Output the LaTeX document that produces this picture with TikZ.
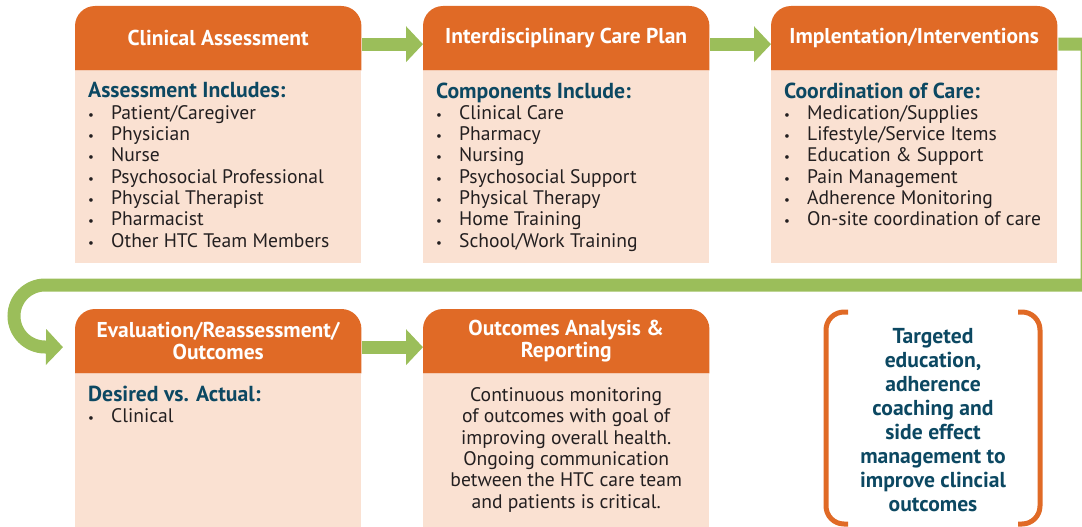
\documentclass[tikz,border=0pt]{standalone}
\usepackage{fontspec}
\setmainfont{PT Sans}
\usetikzlibrary{positioning,arrows.meta,backgrounds}
\definecolor{hdrorange}{RGB}{224,106,38}
\definecolor{bodypeach}{RGB}{250,225,210}
\definecolor{flowgreen}{RGB}{155,190,90}
\definecolor{headteal}{RGB}{12,72,98}
\definecolor{bodygray}{RGB}{35,31,32}
\newcommand{\itm}[1]{\makebox[23pt][l]{\fontsize{13}{13}\selectfont\textbullet}#1}
\newcommand{\hd}[1]{{\fontsize{21.7}{21.3}\selectfont\bfseries\color{headteal}#1}}
\begin{document}
\begin{tikzpicture}[x=1pt, y=-1pt,
	hdr/.style={minimum width=286pt, minimum height=64pt, inner sep=0pt, anchor=north west, text=white, align=center, font=\fontsize{21.5}{22}\selectfont\bfseries},
	bdy/.style={minimum width=286pt, inner sep=0pt, anchor=north west, fill=bodypeach},
	txt/.style={inner sep=0pt, align=left, text=bodygray, font=\fontsize{19.6}{21.3}\selectfont},
	flow/.style={draw=flowgreen, line width=13pt, -{Triangle[width=35pt,length=17pt]}},
	brk/.style={draw=hdrorange, line width=5pt, rounded corners=18pt}]
	\useasboundingbox (0,0) rectangle (1082,527);
	% top row
	\node[hdr](cah) at (75,6) {Clinical Assessment};
	\node[hdr](icph) at (423,6) {Interdisciplinary Care Plan};
	\node[hdr](iih) at (771,6) {Implentation/Interventions};
	\node[bdy, minimum height=192pt](cab) at (cah.south west) {};
	\node[bdy, minimum height=192pt](icpb) at (icph.south west) {};
	\node[bdy, minimum height=192pt](iib) at (iih.south west) {};
	\node[txt, below right=12pt and 13pt of cab.north west](cat) {\hd{Assessment Includes:}\\
		\itm{Patient/Caregiver}\\ \itm{Physician}\\ \itm{Nurse}\\ \itm{Psychosocial Professional}\\
		\itm{Physcial Therapist}\\ \itm{Pharmacist}\\ \itm{Other HTC Team Members}};
	\node[txt, below right=12pt and 13pt of icpb.north west](icpt) {\hd{Components Include:}\\
		\itm{Clinical Care}\\ \itm{Pharmacy}\\ \itm{Nursing}\\ \itm{Psychosocial Support}\\
		\itm{Physical Therapy}\\ \itm{Home Training}\\ \itm{School/Work Training}};
	\node[txt, below right=12pt and 13pt of iib.north west](iit) {\hd{Coordination of Care:}\\
		\itm{Medication/Supplies}\\ \itm{Lifestyle/Service Items}\\ \itm{Education \& Support}\\
		\itm{Pain Management}\\ \itm{Adherence Monitoring}\\ \itm{On-site coordination of care}};
	% bottom row
	\node[hdr](erah) at (75,309) {Evaluation/Reassessment/\\Outcomes};
	\node[hdr](oarh) at (423,309) {Outcomes Analysis \&\\Reporting};
	\node[bdy, minimum height=170pt](erab) at (erah.south west) {};
	\node[bdy, minimum height=170pt](oarb) at (oarh.south west) {};
	\node[txt, below right=12pt and 13pt of erab.north west](erat) {\hd{Desired vs. Actual:}\\ \itm{Clinical}};
	\node[txt, align=center, below=14pt of oarb.north](oart) {Continuous monitoring\\ of outcomes with goal of\\
		improving overall health.\\ Ongoing communication\\ between the HTC care team\\ and patients is critical.};
	\begin{scope}[on background layer]
		\foreach \n in {cah,icph,iih,erah,oarh}
			\fill[hdrorange] (\n.south west) [rounded corners=20pt] -- (\n.north west) -- (\n.north east) [sharp corners] -- (\n.south east) -- cycle;
	\end{scope}
	% green flow
	\draw[flow] ([xshift=1pt,yshift=-6pt]cah.east) -- ([yshift=-6pt]icph.west);
	\draw[flow] ([xshift=1pt,yshift=-6pt]icph.east) -- ([yshift=-6pt]iih.west);
	\draw[flow] ([xshift=1pt,yshift=-6pt]iih.east) -| (1087,285) -- (45,285)
		arc[start angle=270, end angle=90, radius=31] -- ([xshift=-12pt,yshift=-6pt]erah.west);
	\draw[flow] ([xshift=1pt,yshift=-6pt]erah.east) -- ([yshift=-6pt]oarh.west);
	% side note
	\node[align=center, text=headteal, font=\fontsize{21.6}{24}\selectfont\bfseries](tgt) at (933,420) {Targeted\\ education,\\ adherence\\
		coaching and\\ side effect\\ management to\\ improve clincial\\ outcomes};
	\draw[brk] (848,312) -- (826,312) -- (826,524) -- (848,524);
	\draw[brk] (1018,312) -- (1040,312) -- (1040,524) -- (1018,524);
\end{tikzpicture}
\end{document}
